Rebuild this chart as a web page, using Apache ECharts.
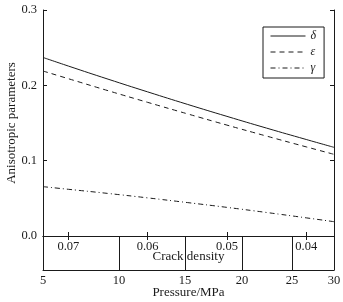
<!DOCTYPE html>
<html>
<head>
<meta charset="utf-8">
<script src="https://cdn.jsdelivr.net/npm/echarts@6/dist/echarts.min.js"></script>
<style>
  html, body { margin: 0; padding: 0; background: #fff; }
  #chart { width: 343px; height: 302px; }
</style>
</head>
<body>
<div id="chart"></div>
<script>
const crackDensity = [0.0732, 0.07, 0.065, 0.06, 0.055, 0.05, 0.045, 0.04, 0.0365]
const delta = [0.237, 0.2256, 0.2082, 0.1913, 0.1748, 0.1588, 0.1432, 0.1281, 0.1177]
const epsilon = [0.219, 0.2088, 0.1929, 0.1774, 0.1622, 0.1472, 0.1326, 0.1183, 0.1084]
const gamma = [0.0655, 0.062, 0.0565, 0.0506, 0.0444, 0.038, 0.0312, 0.0241, 0.019]

const densityTicks = [0.07, 0.06, 0.05, 0.04]
const pressureTicks = [5, 10, 15, 20, 25, 30]
const pressureAtDensity = [0.0732, 0.0636, 0.0553, 0.0481, 0.0418, 0.0365]

const font = '"Liberation Serif", "Times New Roman", serif'
const ink = '#1a1a1a'
const xMin = pressureAtDensity[pressureAtDensity.length - 1]
const xMax = pressureAtDensity[0]

const pair = (ys) => crackDensity.map((x, i) => [x, ys[i]])

const chart = echarts.init(document.getElementById('chart'))
chart.setOption({
  animation: false,
  textStyle: { fontFamily: font, color: ink },
  grid: [
    { left: 43, right: 9, top: 10, height: 226, outerBoundsMode: 'none', containLabel: false },
    { left: 43, right: 9, top: 236, height: 34, outerBoundsMode: 'none', containLabel: false },
  ],
  legend: {
    orient: 'vertical',
    left: 263,
    top: 27,
    itemWidth: 35,
    itemHeight: 10,
    itemGap: 4,
    padding: [3, 8, 4, 7],
    borderColor: ink,
    borderWidth: 1,
    itemStyle: { opacity: 0 },
    lineStyle: { width: 1 },
    textStyle: { fontFamily: font, fontStyle: 'italic', fontSize: 12, lineHeight: 12, color: ink },
    data: ['δ', 'ε', 'γ'],
  },
  xAxis: [
    {
      type: 'value',
      gridIndex: 0,
      min: xMin,
      max: xMax,
      inverse: true,
      position: 'bottom',
      name: 'Crack density',
      nameLocation: 'middle',
      nameGap: 14,
      nameMoveOverlap: false,
      nameTextStyle: { fontFamily: font, fontSize: 13, color: ink },
      axisLine: { lineStyle: { color: ink } },
      axisTick: { inside: true, length: 4, customValues: densityTicks, lineStyle: { color: ink } },
      axisLabel: {
        margin: 4,
        fontFamily: font,
        fontSize: 12.5,
        color: ink,
        customValues: densityTicks,
        formatter: (v) => v.toFixed(2),
      },
      splitLine: { show: false },
    },
    {
      type: 'value',
      gridIndex: 0,
      min: xMin,
      max: xMax,
      inverse: true,
      position: 'top',
      axisLine: { lineStyle: { color: ink } },
      axisTick: { inside: true, length: 4, customValues: densityTicks, lineStyle: { color: ink } },
      axisLabel: { show: false },
      splitLine: { show: false },
    },
    {
      type: 'value',
      gridIndex: 1,
      min: xMin,
      max: xMax,
      inverse: true,
      position: 'bottom',
      name: 'Pressure/MPa',
      nameLocation: 'middle',
      nameGap: 16,
      nameMoveOverlap: false,
      nameTextStyle: { fontFamily: font, fontSize: 13, color: ink },
      axisLine: { lineStyle: { color: ink } },
      axisTick: {
        inside: true,
        length: 34,
        customValues: pressureAtDensity.slice(1, -1),
        lineStyle: { color: ink },
      },
      axisLabel: {
        margin: 4,
        fontFamily: font,
        fontSize: 12.5,
        color: ink,
        showMinLabel: true,
        showMaxLabel: true,
        customValues: pressureAtDensity,
        formatter: (v) => {
          const i = pressureAtDensity.findIndex((p) => Math.abs(p - v) < 1e-6)
          return i >= 0 ? String(pressureTicks[i]) : ''
        },
      },
      splitLine: { show: false },
    },
  ],
  yAxis: [
    {
      type: 'value',
      gridIndex: 0,
      min: 0,
      max: 0.3,
      interval: 0.1,
      position: 'left',
      name: 'Anisotropic parameters',
      nameLocation: 'middle',
      nameGap: 25,
      nameMoveOverlap: false,
      nameTextStyle: { fontFamily: font, fontSize: 13, color: ink },
      axisLine: { show: true, lineStyle: { color: ink } },
      axisTick: { show: true, inside: true, length: 4, lineStyle: { color: ink } },
      axisLabel: {
        margin: 6,
        fontFamily: font,
        fontSize: 12.5,
        color: ink,
        formatter: (v) => v.toFixed(1),
      },
      splitLine: { show: false },
    },
    {
      type: 'value',
      gridIndex: 0,
      min: 0,
      max: 0.3,
      interval: 0.1,
      position: 'right',
      axisLine: { show: true, lineStyle: { color: ink } },
      axisTick: { show: true, inside: true, length: 4, lineStyle: { color: ink } },
      axisLabel: { show: false },
      splitLine: { show: false },
    },
    {
      type: 'value',
      gridIndex: 1,
      min: 0,
      max: 1,
      position: 'left',
      axisLine: { show: true, lineStyle: { color: ink } },
      axisTick: { show: false },
      axisLabel: { show: false },
      splitLine: { show: false },
    },
    {
      type: 'value',
      gridIndex: 1,
      min: 0,
      max: 1,
      position: 'right',
      axisLine: { show: true, lineStyle: { color: ink } },
      axisTick: { show: false },
      axisLabel: { show: false },
      splitLine: { show: false },
    },
  ],
  series: [
    {
      name: 'δ',
      type: 'line',
      xAxisIndex: 0,
      yAxisIndex: 0,
      smooth: true,
      symbol: 'none',
      lineStyle: { color: ink, width: 1, type: 'solid' },
      itemStyle: { color: ink },
      data: pair(delta),
    },
    {
      name: 'ε',
      type: 'line',
      xAxisIndex: 0,
      yAxisIndex: 0,
      smooth: true,
      symbol: 'none',
      lineStyle: { color: ink, width: 1, type: [5, 4] },
      itemStyle: { color: ink },
      data: pair(epsilon),
    },
    {
      name: 'γ',
      type: 'line',
      xAxisIndex: 0,
      yAxisIndex: 0,
      smooth: true,
      symbol: 'none',
      lineStyle: { color: ink, width: 1, type: [5, 3, 1, 3] },
      itemStyle: { color: ink },
      data: pair(gamma),
    },
  ],
})
</script>
</body>
</html>
